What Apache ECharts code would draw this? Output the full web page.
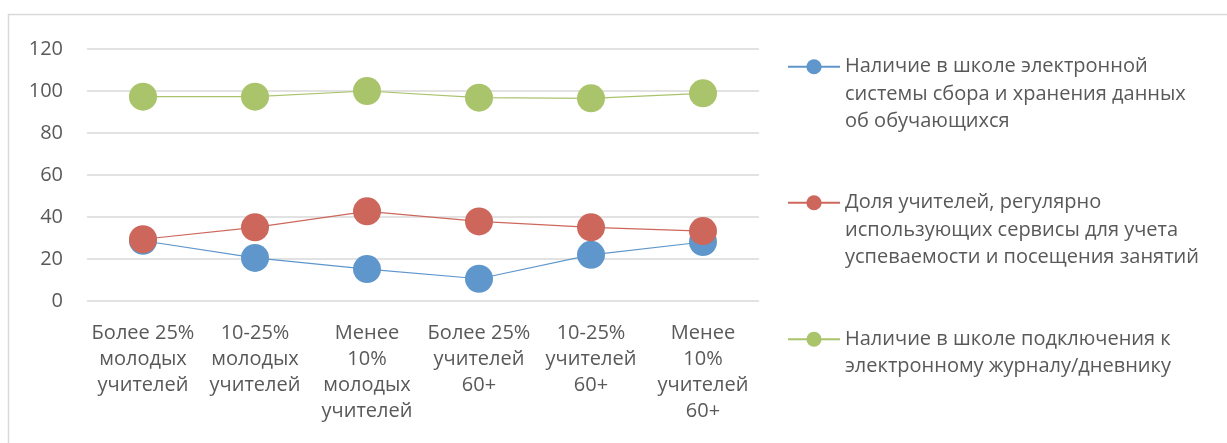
<!DOCTYPE html>
<html>
<head>
<meta charset="utf-8">
<script src="https://cdn.jsdelivr.net/npm/echarts@6/dist/echarts.min.js"></script>
<style>
html,body{margin:0;padding:0;background:#fff;}
#chart{width:1227px;height:443px;}
</style>
</head>
<body>
<div id="chart"></div>
<script>
const categories = [
  'Более 25%\nмолодых\nучителей',
  '10-25%\nмолодых\nучителей',
  'Менее\n10%\nмолодых\nучителей',
  'Более 25%\nучителей\n60+',
  '10-25%\nучителей\n60+',
  'Менее\n10%\nучителей\n60+'
];
const seriesNames = [
  'Наличие в школе электронной системы сбора и хранения данных об обучающихся',
  'Доля учителей, регулярно использующих сервисы для учета успеваемости и посещения занятий',
  'Наличие в школе подключения к электронному журналу/дневнику'
];
const legendLabels = [
  'Наличие в школе электронной\nсистемы сбора и хранения данных\nоб обучающихся',
  'Доля учителей, регулярно\nиспользующих сервисы для учета\nуспеваемости и посещения занятий',
  'Наличие в школе подключения к\nэлектронному журналу/дневнику'
];
const blueValues = [28.7, 20.5, 15.2, 10.6, 22.0, 28.1];
const redValues = [29.4, 35.1, 42.7, 37.9, 35.1, 33.3];
const greenValues = [97.3, 97.3, 100.0, 96.8, 96.5, 98.9];
const yTicks = {min: 0, max: 120, interval: 20};

const colors = ['#5f96cb', '#cd675c', '#a9c46b'];
const values = [blueValues, redValues, greenValues];
const FONT = '"Open Sans", "Noto Sans", sans-serif';
const LH = 27.5;
const legendTops = [-2, 134, 298];

const chart = echarts.init(document.getElementById('chart'), null, {renderer: 'canvas'});

const legends = seriesNames.map((name, i) => {
  const n = legendLabels[i].split('\n').length;
  const padded = ' \n'.repeat(n - 1) + legendLabels[i];
  return {
    data: [name],
    orient: 'vertical',
    left: 787,
    top: legendTops[i],
    padding: 0,
    itemWidth: 52,
    itemHeight: 19,
    itemGap: 0,
    selectedMode: false,
    formatter: () => padded,
    textStyle: {
      fontFamily: FONT,
      fontSize: 20,
      color: '#595959',
      lineHeight: LH
    }
  };
});

const option = {
  backgroundColor: '#ffffff',
  animation: false,
  graphic: [{
    type: 'rect',
    shape: {x: 8.5, y: 14.5, width: 1240, height: 460},
    style: {fill: 'none', stroke: '#d9d9d9', lineWidth: 1.5},
    silent: true
  }],
  legend: legends,
  grid: {left: 87, right: 468, top: 49, bottom: 142},
  xAxis: {
    type: 'category',
    data: categories,
    boundaryGap: true,
    axisLine: {show: false},
    axisTick: {show: false},
    axisLabel: {
      interval: 0,
      margin: 19,
      fontFamily: FONT,
      fontSize: 20,
      lineHeight: 26,
      color: '#595959',
      align: 'center'
    },
    splitLine: {show: false}
  },
  yAxis: {
    type: 'value',
    min: yTicks.min,
    max: yTicks.max,
    interval: yTicks.interval,
    axisLine: {show: false},
    axisTick: {show: false},
    axisLabel: {
      margin: 24,
      fontFamily: FONT,
      fontSize: 20,
      color: '#595959'
    },
    splitLine: {lineStyle: {color: '#d9d9d9', width: 1.5}}
  },
  series: seriesNames.map((name, i) => ({
    name: name,
    type: 'line',
    data: values[i],
    symbol: 'circle',
    symbolSize: 28,
    lineStyle: {color: colors[i], width: 1.2},
    itemStyle: {color: colors[i]},
    emphasis: {disabled: true}
  }))
};
chart.setOption(option);
</script>
</body>
</html>
